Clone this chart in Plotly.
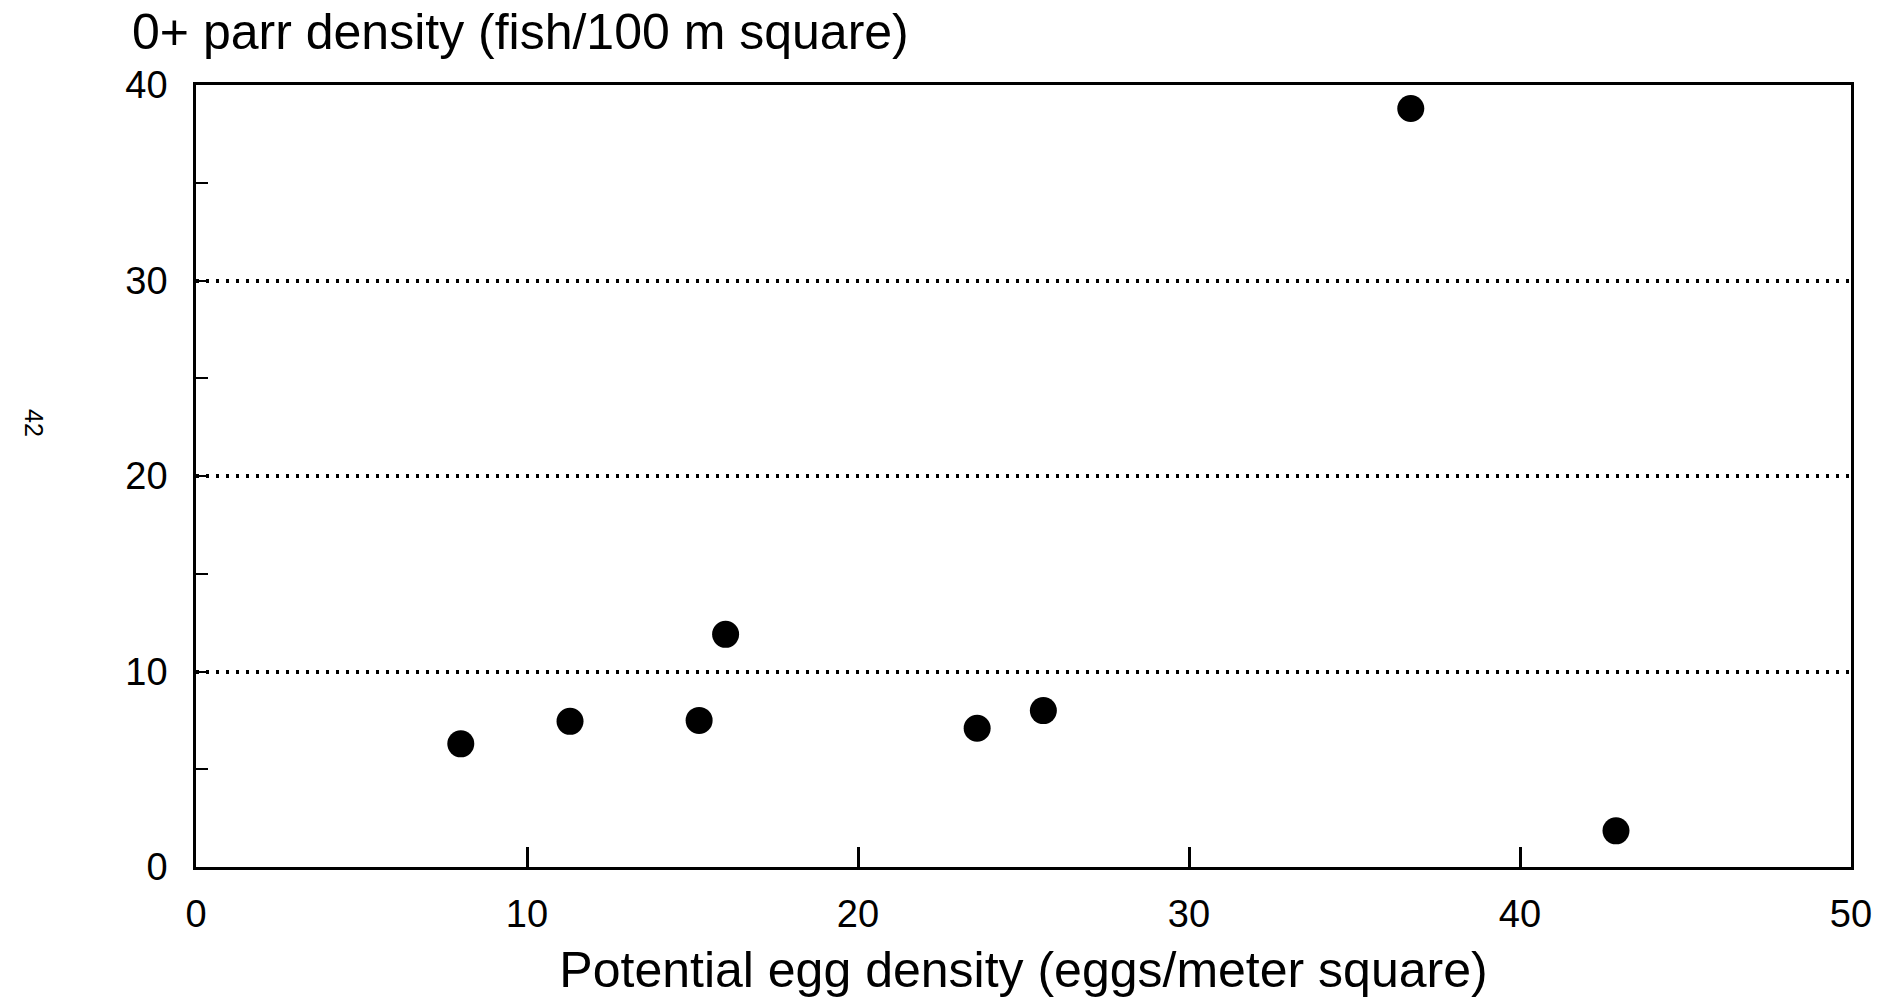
import plotly.graph_objects as go

egg_density = [8.0, 11.3, 15.2, 16.0, 23.6, 25.6, 36.7, 42.9]
parr_density = [6.3, 7.45, 7.5, 11.9, 7.1, 8.0, 38.8, 1.85]

x_ticks = [0, 10, 20, 30, 40, 50]
y_ticks = [0, 10, 20, 30, 40]

FONT = "Liberation Sans, Arial, sans-serif"

fig = go.Figure()
fig.add_trace(go.Scatter(
    x=egg_density, y=parr_density, mode="markers",
    marker=dict(size=27, color="black", symbol="circle", line=dict(width=0)),
    showlegend=False, hoverinfo="x+y",
))

fig.update_layout(
    width=1885, height=1004,
    margin=dict(l=196, r=34, t=85, b=137),
    paper_bgcolor="white", plot_bgcolor="white",
    font=dict(family=FONT, color="black"),
    title=dict(
        text="0+ parr density (fish/100 m square)",
        font=dict(size=50, family=FONT, color="black"),
        xref="container", yref="container",
        x=132/1885, xanchor="left", y=1-31/1004, yanchor="middle",
    ),
    xaxis=dict(
        range=[0, 50], tickvals=x_ticks, ticktext=[str(v) for v in x_ticks],
        ticks="inside", ticklen=20, tickwidth=2.5, tickcolor="black",
        showline=True, linecolor="black", linewidth=2.5, mirror=True,
        showgrid=False, zeroline=False,
        tickfont=dict(size=38, family=FONT, color="black"),
        ticklabelstandoff=12,
        title=dict(text="Potential egg density (eggs/meter square)",
                   font=dict(size=50, family=FONT, color="black"), standoff=18),
    ),
    yaxis=dict(
        range=[0, 40], tickvals=y_ticks, ticktext=[str(v) for v in y_ticks],
        ticks="inside", ticklen=12, tickwidth=2, tickcolor="black",
        showline=True, linecolor="black", linewidth=2.5, mirror=True,
        showgrid=True, gridcolor="black", gridwidth=3.5, griddash="3px,7px",
        zeroline=False,
        minor=dict(dtick=5, ticks="inside", ticklen=12, tickwidth=2,
                   tickcolor="black", showgrid=False),
        tickfont=dict(size=38, family=FONT, color="black"),
        ticklabelstandoff=18,
    ),
)

fig.add_annotation(
    text="42", xref="paper", yref="paper",
    x=-196/1655 + 18/1655, y=1 - (423-85)/782,
    showarrow=False, textangle=90,
    font=dict(size=25, family=FONT, color="black"),
)

fig.write_html("out.html")
